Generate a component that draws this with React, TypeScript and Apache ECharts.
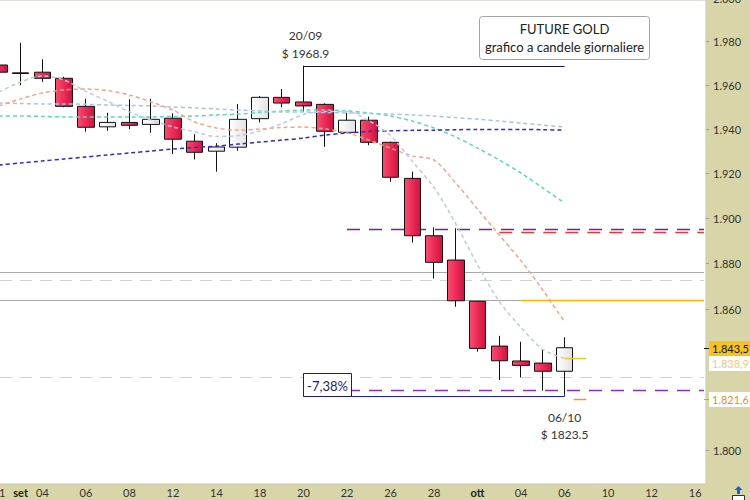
import React, { useEffect, useRef } from 'react';
import * as echarts from 'echarts';

// ---------- DATA ----------
const categories = [
  '2023-08-31', '2023-09-01', '2023-09-04', '2023-09-05', '2023-09-06', '2023-09-07', '2023-09-08',
  '2023-09-11', '2023-09-12', '2023-09-13', '2023-09-14', '2023-09-15', '2023-09-18', '2023-09-19',
  '2023-09-20', '2023-09-21', '2023-09-22', '2023-09-25', '2023-09-26', '2023-09-27', '2023-09-28',
  '2023-09-29', '2023-10-02', '2023-10-03', '2023-10-04', '2023-10-05', '2023-10-06', '2023-10-09',
  '2023-10-10', '2023-10-11', '2023-10-12', '2023-10-13', '2023-10-16',
];
const tickLabels = [
  '31', 'set', '04', '', '06', '', '08', '', '12', '', '14', '', '18', '', '20', '', '22', '',
  '26', '', '28', '', 'ott', '', '04', '', '06', '', '10', '', '12', '', '16',
];
const monthLabels = ['set', 'ott'];

const opens = [1969.2, 1965.6, 1965.9, 1963.1, 1950.3, 1941.0, 1943.0, 1942.1, 1944.9, 1934.5, 1930.0, 1931.8, 1944.7, 1954.4, 1952.3, 1951.2, 1938.5, 1944.0, 1934.0, 1917.8, 1892.3, 1881.6, 1863.6, 1844.2, 1837.8, 1836.9, 1833.4];
const closes = [1965.9, 1965.3, 1963.1, 1950.3, 1940.8, 1943.0, 1941.7, 1944.4, 1935.4, 1929.5, 1931.9, 1944.4, 1954.4, 1951.8, 1950.5, 1939.0, 1944.0, 1934.0, 1918.3, 1892.3, 1880.6, 1863.8, 1843.2, 1837.9, 1835.9, 1833.4, 1843.5];
const highs = [1975.5, 1979.4, 1971.8, 1963.8, 1953.7, 1947.4, 1953.5, 1953.7, 1947.1, 1937.7, 1933.6, 1951.4, 1955.0, 1958.2, 1968.9, 1951.7, 1947.4, 1945.6, 1934.3, 1920.8, 1896.0, 1895.6, 1863.7, 1848.6, 1846.1, 1842.8, 1848.0];
const lows = [1964.6, 1960.0, 1961.5, 1949.9, 1938.8, 1939.2, 1939.9, 1938.3, 1928.7, 1926.3, 1920.8, 1930.2, 1943.0, 1949.9, 1947.9, 1932.0, 1938.2, 1932.7, 1916.3, 1889.3, 1873.6, 1861.2, 1841.8, 1829.7, 1830.8, 1825.1, 1823.5];

const maFast = [1956.8, 1961.4, 1964.2, 1962.3, 1957.1, 1952.6, 1947.8, 1944.0, 1941.0, 1938.8, 1936.6, 1937.1, 1939.1, 1942.4, 1946.6, 1948.0, 1947.9, 1943.8, 1937.1, 1925.4, 1913.7, 1897.6, 1879.5, 1863.5, 1852.2, 1842.8, 1838.9];
const maSalmon = [1950.5, 1953.7, 1956.4, 1957.8, 1958.2, 1957.5, 1955.5, 1952.3, 1948.6, 1943.2, 1940.5, 1939.5, 1940.0, 1940.7, 1940.9, 1940.0, 1938.2, 1935.0, 1931.4, 1927.9, 1926.0, 1915.7, 1904.1, 1892.6, 1881.2, 1868.5, 1854.6];
const maLightBlue = [1951.8, 1951.6, 1951.4, 1951.4, 1951.2, 1950.9, 1950.7, 1950.5, 1950.0, 1949.6, 1949.1, 1948.6, 1948.2, 1947.7, 1947.7, 1947.5, 1947.3, 1947.1, 1946.8, 1946.4, 1945.9, 1945.2, 1944.5, 1943.6, 1942.7, 1941.8, 1940.9];
const maTeal = [1945.9, 1945.9, 1945.7, 1945.5, 1945.5, 1945.5, 1945.5, 1945.5, 1945.7, 1945.9, 1946.4, 1946.8, 1947.5, 1948.2, 1948.6, 1948.6, 1948.2, 1947.3, 1945.9, 1943.6, 1940.5, 1936.4, 1931.4, 1926.0, 1920.2, 1913.5, 1906.8];
const maDarkBlue = [1923.8, 1924.7, 1925.6, 1926.5, 1927.4, 1928.3, 1929.2, 1930.1, 1931.0, 1931.7, 1932.3, 1933.2, 1934.1, 1935.0, 1935.9, 1937.3, 1938.2, 1938.9, 1939.2, 1939.4, 1939.5, 1939.7, 1939.8, 1939.8, 1939.8, 1939.7, 1939.5];

const yTicks = [1800, 1860, 1880, 1900, 1920, 1940, 1960, 1980];
const yTopTick = 2000;
const Y_MIN = 1785.8;
const Y_MAX = 1999.3;

const levelValues = [1895.3, 1894.0, 1876.4, 1872.9, 1864.1, 1864.1, 1830.8, 1825.3];
const levelStartIndex = [16, 23, 0, 0, 0, 24, 0, 16];

const PEAK_INDEX = 14;
const TROUGH_INDEX = 26;
const lastPrice = 1843.5;
const fastMaLast = 1838.9;
const lowerBand = 1821.6;

const titleLines = ['FUTURE GOLD', 'grafico a candele giornaliere'];

// ---------- HELPERS ----------
const fmtNum = (n: number, dec: number) => {
  const s = n.toFixed(dec);
  const [i, d] = s.split('.');
  const ii = i.replace(/\B(?=(\d{3})+(?!\d))/g, '.');
  return d ? `${ii},${d}` : ii;
};
const dm = (iso: string) => `${iso.slice(8, 10)}/${iso.slice(5, 7)}`;

export default function App() {
  const ref = useRef<HTMLDivElement>(null);

  useEffect(() => {
    const el = ref.current!;
    const chart = echarts.init(el, null, { renderer: 'svg' });
    const L = Math.log10;
    const FONT = 'Lato, "Noto Sans", sans-serif';
    const GRID_LEFT = -12;
    const GRID_WIDTH = 718;
    const GRID_TOP = 0;
    const GRID_BOTTOM = 16;

    const candleData = opens.map((o, i) => [L(o), L(closes[i]), L(lows[i]), L(highs[i])]);

    const maDefs = [
      { name: 'teal', data: maTeal, color: '#5ad8c0' },
      { name: 'lightblue', data: maLightBlue, color: '#a9c3e6' },
      { name: 'darkblue', data: maDarkBlue, color: '#2b2bd2' },
      { name: 'salmon', data: maSalmon, color: '#f2a58a' },
      { name: 'fast', data: maFast, color: '#bccbe3' },
    ];

    chart.setOption({
      animation: false,
      backgroundColor: '#d8d6a8',
      grid: {
        left: GRID_LEFT, top: GRID_TOP, width: GRID_WIDTH, bottom: GRID_BOTTOM,
        show: true, backgroundColor: '#ffffff', borderColor: '#c6c6b6', borderWidth: 1,
        containLabel: false, outerBoundsMode: 'none',
      },
      xAxis: {
        type: 'category',
        data: categories,
        boundaryGap: true,
        axisLine: { show: false },
        axisTick: { show: false },
        splitLine: { show: false },
        axisLabel: {
          interval: 0,
          margin: 3,
          fontSize: 11,
          color: '#333',
          fontFamily: FONT,
          formatter: (_v: string, i: number) => {
            const t = tickLabels[i] || '';
            return monthLabels.includes(t) ? `{b|${t}}` : t;
          },
          rich: { b: { fontWeight: 'bold', fontSize: 11, color: '#222', fontFamily: FONT } },
        },
      },
      yAxis: {
        type: 'value',
        position: 'right',
        min: L(Y_MIN),
        max: L(Y_MAX),
        splitLine: { show: false },
        axisLine: { show: false },
        axisTick: { show: true, length: 3, lineStyle: { color: '#a0a090' }, customValues: yTicks.map(L) },
        axisLabel: {
          customValues: yTicks.map(L),
          margin: 7,
          fontSize: 11,
          color: '#333',
          fontFamily: FONT,
          formatter: (v: number) => fmtNum(Math.round(Math.pow(10, v)), 0),
        },
      },
      series: [
        {
          type: 'candlestick',
          data: candleData,
          barWidth: 17,
          z: 3,
          itemStyle: {
            color: new echarts.graphic.LinearGradient(0, 0, 1, 0, [
              { offset: 0, color: '#ffffff' }, { offset: 1, color: '#e2e2e2' },
            ]),
            color0: new echarts.graphic.LinearGradient(0, 0, 1, 0, [
              { offset: 0, color: '#ff4a6e' }, { offset: 1, color: '#d40f3e' },
            ]),
            borderColor: '#111',
            borderColor0: '#111',
            borderWidth: 1,
          },
        },
        ...maDefs.map((m) => ({
          type: 'line',
          name: m.name,
          data: m.data.map(L),
          symbol: 'none',
          smooth: 0.3,
          z: 4,
          lineStyle: { color: m.color, width: 1.5, type: [4, 3] },
        })),
      ],
    });

    const P = (k: number, p: number) =>
      chart.convertToPixel({ xAxisIndex: 0, yAxisIndex: 0 }, [k, L(p)]) as number[];
    const crisp = (y: number) => Math.round(y) + 0.5;
    const rightX = GRID_LEFT + GRID_WIDTH - 2;
    const leftX = 0;

    const levelStyles = [
      { stroke: '#7a1fa0', lineWidth: 1.5, lineDash: [13, 9] },
      { stroke: '#e53935', lineWidth: 1.5, lineDash: [13, 9] },
      { stroke: '#a8a8a8', lineWidth: 1 },
      { stroke: '#d0d0d0', lineWidth: 1, lineDash: [12, 8] },
      { stroke: '#a8a8a8', lineWidth: 1 },
      { stroke: '#ffb300', lineWidth: 1.5 },
      { stroke: '#d0d0d0', lineWidth: 1, lineDash: [12, 8] },
      { stroke: '#8a2be2', lineWidth: 1.5, lineDash: [13, 9] },
    ];

    const elements: any[] = [];
    levelValues.forEach((v, i) => {
      const y = crisp(P(0, v)[1]);
      const x1 = levelStartIndex[i] === 0 ? leftX : P(levelStartIndex[i], v)[0];
      elements.push({
        type: 'line', z: 1, silent: true,
        shape: { x1, y1: y, x2: rightX, y2: y },
        style: { ...levelStyles[i], fill: null },
      });
    });

    // peak / trough bracket
    const peakHigh = highs[PEAK_INDEX];
    const troughLow = lows[TROUGH_INDEX];
    const [xPeak, yPeak] = P(PEAK_INDEX, peakHigh);
    const [xTrough, yTroughRaw] = P(TROUGH_INDEX, troughLow);
    const yTop = crisp(yPeak);
    const yBot = crisp(yTroughRaw + 2);
    elements.push({
      type: 'line', z: 5, silent: true,
      shape: { x1: xPeak, y1: yTop, x2: xTrough, y2: yTop },
      style: { stroke: '#15155e', lineWidth: 1 },
    });
    elements.push({
      type: 'line', z: 5, silent: true,
      shape: { x1: xPeak, y1: yBot, x2: xTrough, y2: yBot },
      style: { stroke: '#1c1cc4', lineWidth: 1 },
    });
    elements.push({
      type: 'line', z: 5, silent: true,
      shape: { x1: xTrough, y1: yTroughRaw, x2: xTrough, y2: yBot },
      style: { stroke: '#1c1cc4', lineWidth: 1 },
    });
    const pct = ((troughLow - peakHigh) / peakHigh) * 100;
    const bx = Math.round(xPeak) + 0.5;
    elements.push({
      type: 'rect', z: 6, silent: true,
      shape: { x: bx, y: yBot - 23, width: 48, height: 23 },
      style: { fill: '#ffffff', stroke: '#1a1a80', lineWidth: 1 },
    });
    elements.push({
      type: 'text', z: 7, silent: true, x: bx + 24, y: yBot - 11,
      style: { text: `${fmtNum(pct, 2)}%`, align: 'center', verticalAlign: 'middle', font: `13px ${FONT}`, fill: '#1a1a80' },
    });
    const txt = (t: string, x: number, y: number, size = 12, fill = '#333') => ({
      type: 'text', z: 7, silent: true, x, y,
      style: { text: t, align: 'center', verticalAlign: 'middle', font: `${size}px ${FONT}`, fill },
    });
    elements.push(txt(dm(categories[PEAK_INDEX]), xPeak + 2, yPeak - 30));
    elements.push(txt(`$ ${peakHigh.toFixed(1)}`, xPeak + 2, yPeak - 12));
    elements.push(txt(dm(categories[TROUGH_INDEX]), xTrough, yTroughRaw + 23));
    elements.push(txt(`$ ${troughLow.toFixed(1)}`, xTrough, yTroughRaw + 40.5));

    // short markers to the right of the last candle
    const xNext = P(TROUGH_INDEX + 1, lastPrice)[0];
    const yFast = crisp(P(TROUGH_INDEX, fastMaLast)[1]);
    const yBand = crisp(P(TROUGH_INDEX, lowerBand)[1]);
    elements.push({ type: 'line', z: 5, silent: true, shape: { x1: xTrough, y1: yFast, x2: xNext, y2: yFast }, style: { stroke: '#f5c518', lineWidth: 1.5 } });
    elements.push({ type: 'line', z: 5, silent: true, shape: { x1: xTrough + 9, y1: yBand, x2: xNext, y2: yBand }, style: { stroke: '#f0962a', lineWidth: 1.5 } });

    // title box
    elements.push({
      type: 'rect', z: 6, silent: true,
      shape: { x: 479.5, y: 16.5, width: 170, height: 43, r: 3 },
      style: { fill: '#ffffff', stroke: '#a4a4a4', lineWidth: 1 },
    });
    elements.push(txt(titleLines[0], 564.5, 28.5, 13, '#222'));
    elements.push(txt(titleLines[1], 564.5, 46.5, 13, '#222'));

    // price tags on the right axis
    const y1 = P(0, lastPrice)[1];
    const y2 = Math.max(P(0, fastMaLast)[1], y1 + 15);
    const y3 = P(0, lowerBand)[1];
    const tag = (y: number, label: string, bg: string, fg: string, tick?: string) => {
      elements.push({ type: 'rect', z: 8, silent: true, shape: { x: 709, y: Math.round(y) - 7, width: 41, height: 15 }, style: { fill: bg } });
      elements.push({ type: 'text', z: 9, silent: true, x: 712, y: Math.round(y) + 0.5, style: { text: label, align: 'left', verticalAlign: 'middle', font: `11px ${FONT}`, fill: fg } });
      if (tick) elements.push({ type: 'line', z: 9, silent: true, shape: { x1: 704, y1: crisp(y), x2: 709, y2: crisp(y) }, style: { stroke: tick, lineWidth: 1 } });
    };
    tag(y1, fmtNum(lastPrice, 1), '#f7c31a', '#111', '#111');
    tag(y2, fmtNum(fastMaLast, 1), '#ffffff', '#e6cf78');
    tag(y3, fmtNum(lowerBand, 1), '#ffffff', '#e8902a', '#f0962a');

    // cut-off top label
    elements.push({
      type: 'text', z: 9, silent: true, x: 713, y: P(0, yTopTick)[1],
      style: { text: fmtNum(yTopTick, 0), align: 'left', verticalAlign: 'middle', font: `11px ${FONT}`, fill: '#333' },
    });

    // small icon bottom right
    elements.push({ type: 'polygon', z: 9, silent: true, shape: { points: [[738.5, 486], [742.5, 490], [740, 490], [740, 494], [737, 494], [737, 490], [734.5, 490]] }, style: { fill: '#1f5fbf' } });
    elements.push({ type: 'rect', z: 9, silent: true, shape: { x: 732.5, y: 495.5, width: 12, height: 5 }, style: { fill: '#ffffff', stroke: '#333', lineWidth: 1 } });

    chart.setOption({ graphic: { elements } });

    return () => chart.dispose();
  }, []);

  return <div ref={ref} style={{ position: 'fixed', left: 0, top: 0, width: 750, height: 500 }} />;
}
